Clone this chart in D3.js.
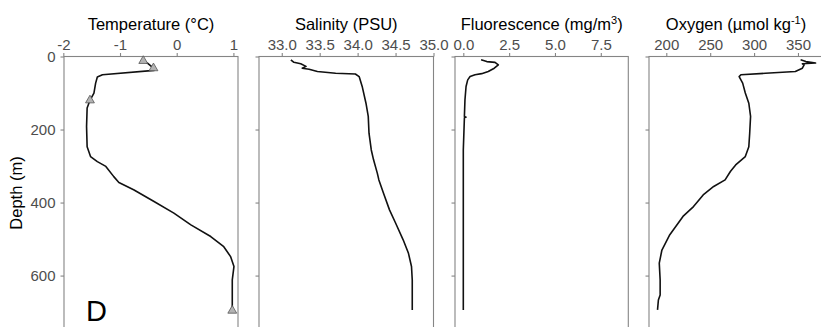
<!DOCTYPE html>
<html>
<head>
<meta charset="utf-8">
<script src="https://cdn.jsdelivr.net/npm/d3@7"></script>
<style>
  html, body { margin: 0; padding: 0; background: #fff; }
  svg { display: block; font-family: "Liberation Sans", Arial, sans-serif; }
</style>
</head>
<body>
<svg id="chart" width="821" height="327"></svg>
<script>
// ---- data ----
const depthTicks = [0, 200, 400, 600];

const tempTicks = [-2, -1, 0, 1];
const tempDepth = [10, 12, 20, 32, 38, 50, 56, 73, 100, 120, 141, 192, 247, 274, 288, 301, 329, 345, 365, 397, 429, 461, 493, 521, 548, 575, 612, 650, 690];
const tempVal   = [-0.62, -0.59, -0.5, -0.41, -0.40, -1.31, -1.40, -1.43, -1.46, -1.53, -1.58, -1.59, -1.58, -1.52, -1.40, -1.25, -1.11, -1.02, -0.76, -0.40, -0.05, 0.25, 0.60, 0.83, 0.95, 1.01, 0.98, 0.98, 0.98];
const tempSampleDepth = [12, 32, 120, 696];
const tempSampleVal   = [-0.59, -0.41, -1.53, 0.98];

const salTicks = [33.0, 33.5, 34.0, 34.5, 35.0];
const salDepth = [9, 16, 20, 27, 32, 35, 41, 46, 48, 55, 82, 128, 164, 210, 256, 283, 320, 338, 374, 420, 456, 502, 539, 575, 612, 694];
const salVal   = [33.12, 33.16, 33.25, 33.32, 33.27, 33.36, 33.47, 33.71, 33.97, 34.02, 34.06, 34.11, 34.14, 34.15, 34.18, 34.21, 34.26, 34.28, 34.34, 34.42, 34.50, 34.60, 34.67, 34.71, 34.72, 34.72];

const fluTicks = [0.0, 2.5, 5.0, 7.5];
const fluDepth = [9, 14, 16, 23, 32, 41, 47, 50, 55, 64, 82, 119, 164, 166, 168, 256, 361, 500, 694];
const fluVal   = [0.97, 1.28, 1.73, 1.91, 1.69, 1.36, 1.0, 0.64, 0.37, 0.24, 0.15, 0.09, 0.06, 0.15, 0.06, 0.0, 0.0, 0.0, 0.0];

const oxyTicks = [200, 250, 300, 350];
const oxyDepth = [9, 14, 18, 20, 23, 32, 41, 46, 50, 55, 73, 100, 128, 164, 210, 247, 274, 297, 315, 338, 356, 379, 411, 438, 488, 530, 566, 612, 653, 667, 694];
const oxyVal   = [353, 359, 370, 355, 357, 355, 347, 313, 285, 283, 287, 290, 294, 296, 295, 294, 290, 279, 273, 267, 254, 242, 231, 219, 204, 195, 192, 193, 193, 191, 190];

// ---- layout ----
const svg = d3.select("#chart");
const plotTop = 56.5, plotBottom = 334;
const y = d3.scaleLinear().domain([0, 760]).range([plotTop, plotBottom]);

const intFmt = d => String(d);            // plain hyphen-minus, as in the reference
const oneDec = d => d.toFixed(1);

const panels = [
  {title: ["Temperature (°C)"], left: 64, right: 238, domain: [-1.988, 1.081], ticks: tempTicks, fmt: intFmt, depth: tempDepth, val: tempVal, yLabels: true},
  {title: ["Salinity (PSU)"], left: 259, right: 433.5, domain: [32.70, 35.0], ticks: salTicks, fmt: oneDec, depth: salDepth, val: salVal},
  {title: ["Fluorescence (mg/m", "3", ")"], left: 455, right: 628.3, domain: [-0.453, 9.0], ticks: fluTicks, fmt: oneDec, depth: fluDepth, val: fluVal},
  {title: ["Oxygen (µmol kg", "-1", ")"], left: 649, right: 823, domain: [180.3, 378.5], ticks: oxyTicks, fmt: intFmt, depth: oxyDepth, val: oxyVal}
];

const axisGray = "#858585";
const labelGray = "#4d4d4d";

panels.forEach((p, i) => {
  const x = d3.scaleLinear().domain(p.domain).range([p.left, p.right]);
  const g = svg.append("g");

  g.append("rect")
    .attr("x", p.left).attr("y", plotTop)
    .attr("width", p.right - p.left).attr("height", plotBottom - plotTop)
    .attr("fill", "none").attr("stroke", axisGray).attr("stroke-width", 1.1);

  const xa = g.append("g").attr("transform", `translate(0,${plotTop})`)
    .call(d3.axisTop(x).tickValues(p.ticks).tickFormat(p.fmt).tickSize(3.5).tickPadding(3));
  xa.select(".domain").remove();
  xa.selectAll(".tick line").attr("stroke", axisGray).attr("stroke-width", 1.1);
  xa.selectAll(".tick text").attr("fill", labelGray).style("font-size", "15px");

  const ya = g.append("g").attr("transform", `translate(${p.left},0)`)
    .call(d3.axisLeft(y).tickValues(depthTicks).tickSize(3.5).tickPadding(5)
      .tickFormat(p.yLabels ? intFmt : () => ""));
  ya.select(".domain").remove();
  ya.selectAll(".tick line").attr("stroke", axisGray).attr("stroke-width", 1.1);
  ya.selectAll(".tick text").attr("fill", labelGray).style("font-size", "15px");

  const t = g.append("text")
    .attr("x", (x.range()[0] + x.range()[1]) / 2)
    .attr("y", 29.5)
    .attr("text-anchor", "middle")
    .style("font-size", "16.5px")
    .attr("fill", "#000");
  t.append("tspan").text(p.title[0]);
  if (p.title.length > 1) {
    t.append("tspan").attr("dy", -6).style("font-size", "11px").text(p.title[1]);
    t.append("tspan").attr("dy", 6).text(p.title[2]);
  }

  const pts = p.depth.map((d, k) => [p.val[k], d]);
  g.append("path")
    .datum(pts)
    .attr("fill", "none")
    .attr("stroke", "#111")
    .attr("stroke-width", 1.6)
    .attr("stroke-linejoin", "round")
    .attr("d", d3.line().x(d => x(d[0])).y(d => y(d[1])));

  if (i === 0) {
    const sym = d3.symbol().type(d3.symbolTriangle).size(34);
    g.selectAll("path.tri")
      .data(tempSampleDepth.map((d, k) => [tempSampleVal[k], d]))
      .join("path")
      .attr("class", "tri")
      .attr("transform", d => `translate(${x(d[0])},${y(d[1])})`)
      .attr("d", sym)
      .attr("fill", "#b3b3b3")
      .attr("stroke", "#555")
      .attr("stroke-width", 0.8);

    g.append("text")
      .attr("x", p.left + 22)
      .attr("y", 320.5)
      .style("font-size", "29px")
      .attr("fill", "#000")
      .text("D");
  }
});

svg.append("text")
  .attr("transform", `translate(22,193) rotate(-90)`)
  .attr("text-anchor", "middle")
  .style("font-size", "16.5px")
  .attr("fill", "#000")
  .text("Depth (m)");
</script>
</body>
</html>
